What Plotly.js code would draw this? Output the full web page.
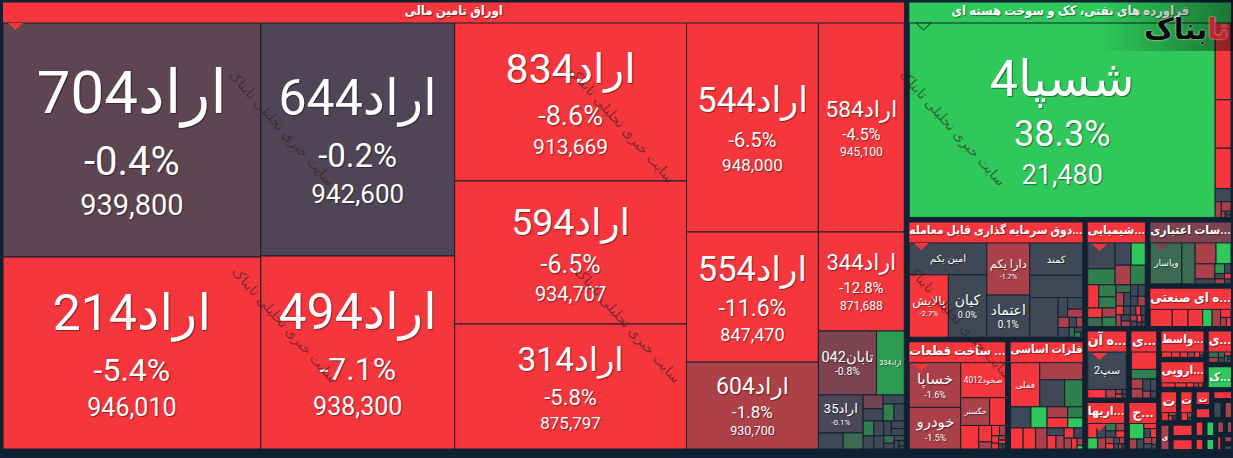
<!DOCTYPE html>
<html><head><meta charset="utf-8">
<script src="https://cdn.plot.ly/plotly-3.0.1.min.js"></script>
<style>html,body{margin:0;padding:0;background:#0e2233;overflow:hidden}#c{margin-left:-2px;margin-top:-23px}</style>
</head><body><div id="c"></div>
<script>
const BG='#0e2233';
const TONES={r:'#f6363d',m:'#a9404a',k:'#3f4856',g:'#2ec95a',d:'#30804f',e:'#3c6a52',p:'#6f4450',q:'#5d4551',u:'#504556',v:'#ae4048',w:'#7c4350',x:'#2d9a52',y:'#4b4759'};

// sectors: header text, size on the map, header tone
const sectorNames=['اوراق تامین مالی','فراورده های نفتی، کک و سوخت هسته ای','...دوق سرمایه گذاری قابل معامله','... ساخت قطعات','فلزات اساسی','...شیمیایی','...سات اعتباری','...ه ای صنعتی','...ه آن','...ی','...اریها','...ج','...واسط','...اروپی','...ی','...ک','ت','ت','ت','','','','','ی','','','','','','','','','','',''];
const sectorSizes=[409057,71825,21360,11312,8624,6820,5695,3655,3124,2150,2125,1632,1457,1410,975,680,660,520,300,234,231,220,200,345,340,315,190,190,150,150,145,120,120,96,80];
const sectorTones=['r','g','r','r','r','r','w','r','r','r','r','r','r','r','r','g','r','r','r','r','r','k','m','m','r','r','r','g','r','g','m','m','r','m','k'];
const headerSizes=[13,13,15,16,16,15,15,15,15,15,15,15,15,15,14,15,15,14,14,8,8,8,8,12,8,8,8,8,8,8,8,8,8,8,8];

// cells of each sector
const bondWeights=[60372,49536,45200,37442,36656,33176,29000,27588,17974,17160,11484,8514,3717,1780,1700,400,320,280,240,190,185,175,160,150,140,130,110,100,90,80,60,50,40,30,15];
const bondTones=['q','r','u','r','r','r','r','r','r','r','v','r','w','x','y','k','e','p','k','k','d','k','d','k','k','k','k','k','k','e','k','k','k','k','k'];
const bondNames=['اراد704','اراد214','اراد644','اراد494','اراد834','اراد594','اراد314','اراد544','اراد584','اراد554','اراد604','اراد344','تابان042','اراد334','اراد35'];
const bondChanges=['-0.4%','-5.4%','-0.2%','-7.1%','-8.6%','-6.5%','-5.8%','-6.5%','-4.5%','-11.6%','-1.8%','-12.8%','-0.8%','','-0.1%'];
const bondPrices=['939,800','946,010','942,600','938,300','913,669','934,707','875,797','948,000','945,100','847,470','930,700','871,688','','',''];

const oilWeights=[59584,1216,768,640,208,96,92,24,20,16];
const oilTones=['g','r','r','r','k','m','m','m','k','k'];
const oilNames=['شسپا4'];const oilChanges=['38.3%'];const oilPrices=['21,480'];

const fundWeights=[2400,2370,2330,2184,1764,1664,1140,1090,182,170,120,110,105,70,60,50,40,30,10];
const fundTones=['k','r','k','m','k','k','k','k','k','k','m','m','k','k','m','e','k','d','k'];
const fundNames=['امین یکم','پالایش','کیان','دارا یکم','اعتماد','کمند'];
const fundChanges=['','-2.7%','0.0%','-1.7%','0.1%',''];

const autoWeights=[2244,2091,1530,783,432,414,207,90,80,60,50,40,30,25,20,15];
const autoTones=['m','m','r','m','r','r','r','m','r','m','r','r','m','r','k','k'];
const autoNames=['خساپا','خودرو','صخود4012','خگستر'];const autoChanges=['-1.6%','-1.5%','',''];

const metalWeights=[1290,731,675,486,430,340,265,265,240,225,210,165,150,130,120,110,100,90,80,60,40,20];
const metalTones=['r','m','k','d','k','g','r','r','m','m','r','d','g','k','r','m','r','k','m','r','m','g'];
const metalNames=['فملی'];const metalChanges=[''];

const chemWeights=[700,432,352,310,298,285,253,204,187,140,126,126,126,112,104,90,85,80,70,70,65,60,60,55,50,50,45,40,40,35,30,25,20,15];
const chemTones=['k','d','k','g','m','d','r','d','d','r','e','m','d','e','m','k','k','k','k','m','r','k','m','k','m','k','r','k','m','k','r','k','k','k'];

const creditWeights=[1240,520,420,300,285,95,88,60,50,45,35,30];
const creditTones=['e','e','m','g','m','k','x','k','k','m','r','k'];
const creditNames=['وپاسار'];const creditChanges=[''];

const industryWeights=[357,255,238,153,136,80,50,40];
const industryTones=['r','r','r','g','m','r','m','r'];

const tradeWeights=[1404,152,80,30,25,20,15];
const tradeTones=['k','r','m','m','r','k','k'];
const tradeNames=['سپ2'];const tradeChanges=[''];

const sec10Weights=[420,231,110,100,90,70,50,40];const sec10Tones=['r','d','m','m','k','k','m','k'];
const sec11Weights=[108,100,90,70,60,55,50,45,40,35,30,25,20,15,10];const sec11Tones=['r','k','g','m','d','k','m','r','m','r','k','m','k','m','k'];
const sec12Weights=[210,70,65,60,55,50,45,40,30,20];const sec12Tones=['g','m','k','r','k','r','m','k','m','k'];
const sec13Weights=[60,50,45,40,30,15,10];const sec13Tones=['r','r','r','m','r','m','k'];
const sec14Weights=[55,45,30,20,15,5];const sec14Tones=['r','r','r','m','r','k'];
const sec15Weights=[60,50,40,30,28,20,15,10];const sec15Tones=['e','m','e','k','r','d','k','m'];
const sec17Weights=[45,20,15,10,5];const sec17Tones=['r','m','r','k','k'];
const sec18Weights=[30,12,8];const sec18Tones=['r','m','k'];

const sectorCells={
 0:[bondWeights,bondTones,bondNames,bondChanges,bondPrices],
 1:[oilWeights,oilTones,oilNames,oilChanges,oilPrices],
 2:[fundWeights,fundTones,fundNames,fundChanges],
 3:[autoWeights,autoTones,autoNames,autoChanges],
 4:[metalWeights,metalTones,metalNames,metalChanges],
 5:[chemWeights,chemTones],
 6:[creditWeights,creditTones,creditNames,creditChanges],
 7:[industryWeights,industryTones],
 8:[tradeWeights,tradeTones,tradeNames,tradeChanges],
 9:[sec10Weights,sec10Tones],
 10:[sec11Weights,sec11Tones],
 11:[sec12Weights,sec12Tones],
 12:[sec13Weights,sec13Tones],
 13:[sec14Weights,sec14Tones],
 14:[sec15Weights,sec15Tones],
 16:[sec17Weights,sec17Tones],
 17:[sec18Weights,sec18Tones]
};

// label font sizes [name, change, price]
const labelFonts={'اراد704':[60,40,29],'اراد214':[50,32,25],'اراد644':[50,33,26],'اراد494':[50,32,25],'اراد834':[41,27,21],'اراد594':[37.5,25,20],'اراد314':[33.5,22,17],'اراد544':[35,20,17],'اراد554':[34.5,23,18],'اراد604':[23,17,12.5],'اراد584':[22.7,16,12],'اراد344':[22,15,12],'تابان042':[18,13],'اراد334':[9],'اراد35':[13,8],'شسپا4':[50,36,27],'امین یکم':[10],'پالایش':[14,9],'کیان':[14,9],'دارا یکم':[14,9],'اعتماد':[14,10],'کمند':[10],'خساپا':[15,9],'خودرو':[15,9],'صخود4012':[10],'خگستر':[10],'فملی':[9],'وپاسار':[10],'سپ2':[11]};

const RLE='\u202B',PDF='\u202C';
function rtl(s){return RLE+s+PDF;}
function cellText(name,change,price,out){
  if(!name){out.size=10;return '';}
  const f=labelFonts[name]||[10];
  const parts=[[rtl(name),f[0]]];
  if(change)parts.push([change,f[1]]);
  if(price)parts.push([price,f[2]]);
  if(parts.length===1){out.size=f[0];return parts[0][0];}
  if(parts.length===2){out.size=f[0]*0.9/1.3;
    return `<span style="font-size:${f[0]}px">${parts[0][0]}</span><br><span style="font-size:${f[1]}px">${parts[1][0]}</span>`;}
  const d1=f[0]*1.02,d2=f[2]*1.4;out.size=d2/1.3;
  return `<span style="font-size:${f[0]}px;baseline-shift:${(d1-d2).toFixed(1)}px">${parts[0][0]}</span><br><span style="font-size:${f[1]}px">${parts[1][0]}</span><br><span style="font-size:${f[2]}px">${parts[2][0]}</span>`;
}

const CELL_FONT='Roboto, "DejaVu Sans", sans-serif', HEAD_FONT='Roboto, "DejaVu Sans Condensed", "DejaVu Sans", sans-serif';
const ids=['root'],parents=[''],labels=[' '],values=[0],colors=[BG],texts=[''],sizes=[10],lineW=[0],lineC=[BG],fontW=['normal'],fams=[CELL_FONT];
sectorNames.forEach((n,i)=>{
  const id='s'+i,cells=sectorCells[i];
  ids.push(id);parents.push('root');labels.push(n?rtl(n):' ');
  values.push(cells?0:sectorSizes[i]);
  colors.push(TONES[sectorTones[i]]);
  texts.push(n?rtl(n):'');sizes.push(headerSizes[i]);lineW.push(5);lineC.push(BG);fontW.push('bold');fams.push(HEAD_FONT);
  if(cells){
    const [w,t,nm,ch,pr]=cells;
    const total=w.reduce((a,b)=>a+b,0);
    w.forEach((v,j)=>{
      ids.push(id+'c'+j);parents.push(id);labels.push(' ');
      values.push(v/total*sectorSizes[i]);
      colors.push(TONES[t[j]]);
      const o={};texts.push(cellText(nm&&nm[j],ch&&ch[j],pr&&pr[j],o));sizes.push(o.size);
      lineW.push(1);lineC.push('#14202e');fontW.push('normal');fams.push(CELL_FONT);
    });
  }
});

const W=1238,H=477;
const px=x=>(x+2)/W, py=y=>1-(y+23)/H;
function notch(x,y,tone,outline){
  return {type:'path',xref:'paper',yref:'paper',layer:'above',
    path:`M ${px(x)} ${py(y)} L ${px(x+15)} ${py(y)} L ${px(x+7.5)} ${py(y+7)} Z`,
    fillcolor:TONES[tone],line:{width:outline?1:0,color:'#14202e'}};
}
const shapes=[notch(8,23,'r'),notch(916,23,'g',true),notch(914,243,'r'),notch(914,364,'r'),notch(1016,364,'r'),notch(1092,244,'r'),notch(1154,244,'w'),notch(1154,310,'r'),notch(1092,353,'r'),notch(1092,424,'r')];

const watermark='سایت خبری تحلیلی تابناک';
const wm=(x,y)=>({xref:'paper',yref:'paper',x:px(x),y:py(y),xanchor:'center',yanchor:'middle',showarrow:false,textangle:48,text:rtl(watermark),font:{family:'DejaVu Sans',size:14,color:'rgba(45,30,35,0.6)'}});
const annotations=[wm(282,128),wm(622,125),wm(285,325),wm(628,325),wm(953,128),wm(960,322),
 {xref:'paper',yref:'paper',x:px(1186),y:py(29),xanchor:'center',yanchor:'middle',showarrow:false,
  text:RLE+'<span style="color:#c8232c">تا</span><span style="color:#0a0a0a">بناک</span>'+PDF,
  font:{family:'DejaVu Sans',size:29,weight:700,shadow:'0 0 2px #ffffff'}}];

const grad=encodeURIComponent('<svg xmlns="http://www.w3.org/2000/svg" width="133" height="51"><defs><linearGradient id="a"><stop offset="0" stop-color="#000" stop-opacity="0"/><stop offset="1" stop-color="#000" stop-opacity="0.42"/></linearGradient></defs><rect width="133" height="51" fill="url(#a)"/></svg>');

Plotly.newPlot('c',[{
  type:'treemap',ids,parents,labels,values,branchvalues:'remainder',sort:true,
  text:texts,textinfo:'text',textposition:'middle center',
  hoverinfo:'skip',
  tiling:{packing:'binary',pad:0},
  pathbar:{visible:false},
  marker:{colors,pad:{t:23,l:2.5,r:2.5,b:2.5},line:{width:lineW,color:lineC}},
  textfont:{family:fams,size:sizes,color:'#ffffff',weight:fontW,shadow:'1px 1px 1px rgba(0,0,0,0.45)'}
}],{
  width:W,height:H,margin:{t:0,l:0,r:0,b:0},paper_bgcolor:BG,
  shapes,annotations,showlegend:false,
  images:[{source:'data:image/svg+xml,'+grad,xref:'paper',yref:'paper',x:px(1100),y:py(0),sizex:133/W,sizey:51/H,sizing:'stretch',xanchor:'left',yanchor:'top',layer:'above'}]
},{displayModeBar:false,staticPlot:true});
</script></body></html>
